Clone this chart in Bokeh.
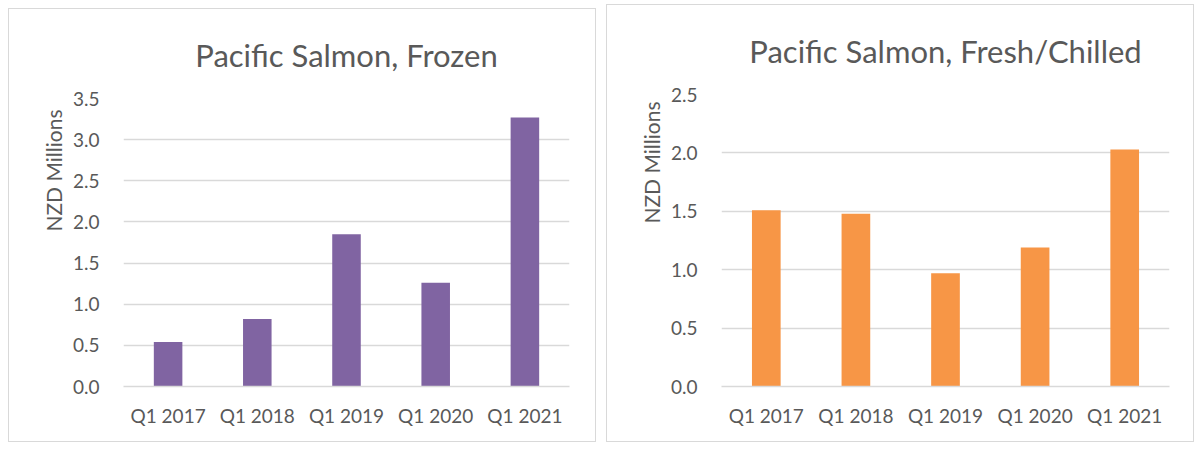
from bokeh.plotting import figure
from bokeh.layouts import row
from bokeh.models import FixedTicker, PrintfTickFormatter, Title
from bokeh.embed import file_html
from bokeh.resources import INLINE

quarters = ["Q1 2017", "Q1 2018", "Q1 2019", "Q1 2020", "Q1 2021"]
frozen = [0.54, 0.82, 1.85, 1.26, 3.27]
fresh = [1.51, 1.48, 0.97, 1.19, 2.03]
frozen_ticks = [0.0, 0.5, 1.0, 1.5, 2.0, 2.5, 3.0, 3.5]
fresh_ticks = [0.0, 0.5, 1.0, 1.5, 2.0, 2.5]
y_title = "NZD Millions"

FONT = "Lato"
TXT = "#595959"
GRID = "#d9d9d9"


def make(title, values, ticks, color, height, top_border, bottom_border,
         right_border, ylabel_offset):
    p = figure(x_range=quarters, y_range=(0, ticks[-1]), width=588, height=height,
               output_backend="svg", toolbar_location=None,
               min_border_left=114, min_border_right=right_border,
               min_border_top=top_border, min_border_bottom=bottom_border)
    p.vbar(x=quarters, top=values, width=0.32, color=color, line_color=None)
    p.styles = {"border": "1px solid #d9d9d9", "box-sizing": "border-box"}
    p.outline_line_color = None
    p.background_fill_color = "white"
    p.border_fill_color = "white"
    p.title.text = title
    p.title.align = "center"
    p.title.vertical_align = "top"
    p.title.text_font = FONT
    p.title.text_font_size = "31px"
    p.title.text_font_style = "normal"
    p.title.text_color = TXT
    p.title.standoff = 46

    p.xgrid.grid_line_color = None
    p.ygrid.grid_line_color = GRID
    p.ygrid.grid_line_width = 1.3
    p.yaxis.ticker = FixedTicker(ticks=ticks)
    p.yaxis.formatter = PrintfTickFormatter(format="%.1f")
    p.yaxis.axis_line_color = None
    p.yaxis.major_tick_line_color = None
    p.yaxis.minor_tick_line_color = None
    p.yaxis.major_label_standoff = 18
    p.yaxis.major_label_text_font = FONT
    p.yaxis.major_label_text_font_size = "19px"
    p.yaxis.major_label_text_color = TXT

    # axis title, placed high along the axis as in the original
    yt = Title(text=y_title, align="right", offset=ylabel_offset,
               text_font=FONT, text_font_size="21px", text_font_style="normal",
               text_color=TXT, standoff=8)
    p.add_layout(yt, "left")

    p.xaxis.axis_line_color = GRID
    p.xaxis.axis_line_width = 1.3
    p.xaxis.major_tick_line_color = None
    p.xaxis.minor_tick_line_color = None
    p.xaxis.major_label_standoff = 11
    p.xaxis.major_label_text_font = FONT
    p.xaxis.major_label_text_font_size = "19px"
    p.xaxis.major_label_text_color = TXT
    p.x_range.range_padding = 0
    p.y_range.start = 0
    return p


p1 = make("Pacific Salmon, Frozen", frozen, frozen_ticks, "#8064A2",
          434, 88, 55, 28, 11)
p2 = make("Pacific Salmon, Fresh/Chilled", fresh, fresh_ticks, "#F79646",
          438, 89, 57, 26, 7)
p1.margin = (4, 0, 0, 0)

layout = row(p1, p2, spacing=10, margin=(4, 0, 0, 8))
open("out.html", "w").write(file_html(layout, INLINE))
